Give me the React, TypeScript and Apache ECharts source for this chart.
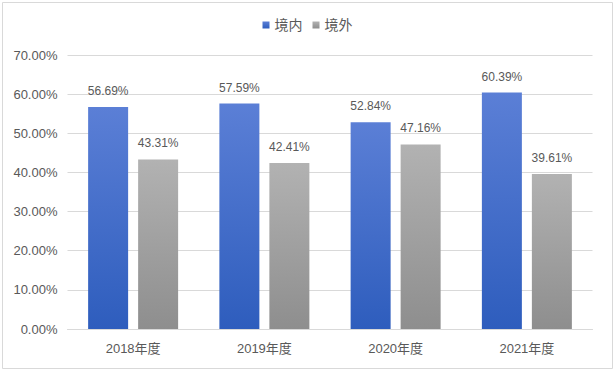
import React, { useEffect, useRef } from "react";
import * as echarts from "echarts";

const categories = ["2018年度", "2019年度", "2020年度", "2021年度"];
const domestic = [56.69, 57.59, 52.84, 60.39];
const overseas = [43.31, 42.41, 47.16, 39.61];
const seriesNames = ["境内", "境外"];

export default function App() {
  const ref = useRef<HTMLDivElement>(null);
  useEffect(() => {
    document.body.style.margin = "0";
    const chart = echarts.init(ref.current!, null, { renderer: "svg" });
    const font = "'Liberation Sans', Arial, 'Noto Sans CJK SC', sans-serif";
    chart.setOption({
      animation: false,
      textStyle: { fontFamily: font },
      graphic: [
        {
          type: "rect",
          shape: { x: 2.5, y: 2.5, width: 610, height: 366 },
          style: { fill: "none", stroke: "#d9d9d9", lineWidth: 1 },
          silent: true,
        },
      ],
      legend: {
        top: 13,
        left: "center",
        itemWidth: 7,
        itemHeight: 7,
        itemGap: 10,
        icon: "rect",
        textStyle: { color: "#595959", fontSize: 14, fontFamily: font },
        data: seriesNames,
      },
      grid: { left: 67.5, right: 22.5, top: 55, bottom: 44, containLabel: false },
      xAxis: {
        type: "category",
        data: categories,
        axisLine: { lineStyle: { color: "#d9d9d9" } },
        axisTick: { show: false },
        axisLabel: { color: "#595959", fontSize: 13, margin: 13, fontFamily: font },
      },
      yAxis: {
        type: "value",
        min: 0,
        max: 70,
        interval: 10,
        axisLine: { show: false },
        axisTick: { show: false },
        splitLine: { lineStyle: { color: "#d9d9d9" } },
        axisLabel: {
          color: "#595959",
          fontSize: 13,
          margin: 10,
          fontFamily: font,
          formatter: (v: number) => v.toFixed(2) + "%",
        },
      },
      series: [
        {
          name: seriesNames[0],
          type: "bar",
          data: domestic,
          barWidth: 40,
          barGap: "25%",
          itemStyle: {
            color: new echarts.graphic.LinearGradient(0, 0, 0, 1, [
              { offset: 0, color: "#5b7fd6" },
              { offset: 1, color: "#2e5dbd" },
            ]),
          },
          label: {
            show: true,
            position: "top",
            distance: 10,
            color: "#595959",
            fontSize: 12,
            fontFamily: font,
            formatter: (p: any) => p.value.toFixed(2) + "%",
          },
        },
        {
          name: seriesNames[1],
          type: "bar",
          data: overseas,
          barWidth: 40,
          itemStyle: {
            color: new echarts.graphic.LinearGradient(0, 0, 0, 1, [
              { offset: 0, color: "#b2b2b2" },
              { offset: 1, color: "#8e8e8e" },
            ]),
          },
          label: {
            show: true,
            position: "top",
            distance: 10,
            color: "#595959",
            fontSize: 12,
            fontFamily: font,
            formatter: (p: any) => p.value.toFixed(2) + "%",
          },
        },
      ],
    });
    return () => chart.dispose();
  }, []);
  return (
    <div
      ref={ref}
      style={{ position: "absolute", left: 0, top: 0, width: 615, height: 373 }}
    />
  );
}
